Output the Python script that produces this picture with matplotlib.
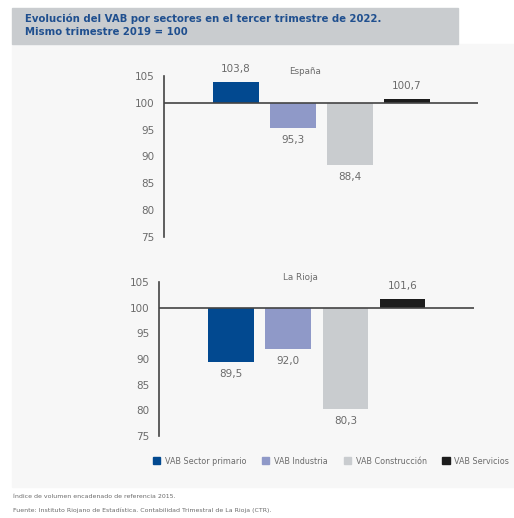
import numpy as np
import matplotlib.pyplot as plt
from matplotlib.patches import Rectangle, Patch

# data
sectores = ['VAB Sector primario', 'VAB Industria', 'VAB Construcción', 'VAB Servicios']
espana = [103.8, 95.3, 88.4, 100.7]
rioja = [89.5, 92.0, 80.3, 101.6]
colores = ['#024990', '#8f99c8', '#c9cccf', '#1c1c1c']
yticks = [75, 80, 85, 90, 95, 100, 105]

gris = '#6b6b6b'
plt.rcParams['font.family'] = ['DejaVu Sans']

fig = plt.figure(figsize=(5.14, 5.18), dpi=100)
W, H = 514, 518

# background panel and title box
fig.patches.append(Rectangle((12 / W, 1 - 487 / H), (514 - 12) / W, (487 - 44) / H,
                             transform=fig.transFigure, color='#f7f7f7', zorder=-5))
fig.patches.append(Rectangle((12 / W, 1 - 44 / H), (458 - 12) / W, 36 / H,
                             transform=fig.transFigure, color='#c9cccf', zorder=-5))
fig.text(25 / W, 1 - 19 / H, 'Evolución del VAB por sectores en el tercer trimestre de 2022.',
         color='#1f4f8f', fontsize=7.3, fontweight='bold', va='center')
fig.text(25 / W, 1 - 32 / H, 'Mismo trimestre 2019 = 100',
         color='#1f4f8f', fontsize=7.3, fontweight='bold', va='center')


def panel(rect, valores, titulo):
    ax = fig.add_axes(rect)
    ax.patch.set_alpha(0)
    x = np.arange(len(valores))
    alturas = [v - 100 for v in valores]
    ax.bar(x, alturas, bottom=100, width=0.8, color=colores, zorder=2)
    ax.axhline(100, color='#444444', lw=1.2, zorder=3)
    for xi, v in zip(x, valores):
        if v >= 100:
            ax.annotate(f'{v:.1f}'.replace('.', ','), (xi, v), xytext=(0, 6),
                        textcoords='offset points', ha='center', va='bottom',
                        fontsize=7.5, color=gris)
        else:
            ax.annotate(f'{v:.1f}'.replace('.', ','), (xi, v), xytext=(0, -5),
                        textcoords='offset points', ha='center', va='top',
                        fontsize=7.5, color=gris)
    ax.set_ylim(75, 105)
    ax.set_xlim(-1.26, 4.25)
    ax.set_yticks(yticks)
    ax.set_xticks([])
    ax.tick_params(axis='y', length=0, pad=7, labelsize=7.5, labelcolor=gris)
    for s in ['top', 'right', 'bottom']:
        ax.spines[s].set_visible(False)
    ax.spines['left'].set_color('#444444')
    ax.spines['left'].set_linewidth(1.2)
    ax.set_title(titulo, fontsize=6.3, color=gris, pad=0, x=0.45)
    return ax


panel([164 / W, 1 - 237 / H, 314 / W, 161 / H], espana, 'España')
panel([159 / W, 1 - 436 / H, 315 / W, 154 / H], rioja, 'La Rioja')

handles = [Patch(color=c, label=s) for c, s in zip(colores, sectores)]
fig.legend(handles=handles, loc='center', bbox_to_anchor=(331 / W, 1 - 461 / H), ncol=4,
           frameon=False, fontsize=5.8, labelcolor=gris, handlelength=0.9, handleheight=0.9,
           handletextpad=0.6, columnspacing=1.95)

fig.text(13 / W, 1 - 497 / H, 'Índice de volumen encadenado de referencia 2015.',
         fontsize=4.5, color=gris, va='center')
fig.text(13 / W, 1 - 510 / H, 'Fuente: Instituto Riojano de Estadística. Contabilidad Trimestral de La Rioja (CTR).',
         fontsize=4.5, color=gris, va='center')

fig.savefig('out.png', dpi=100)
